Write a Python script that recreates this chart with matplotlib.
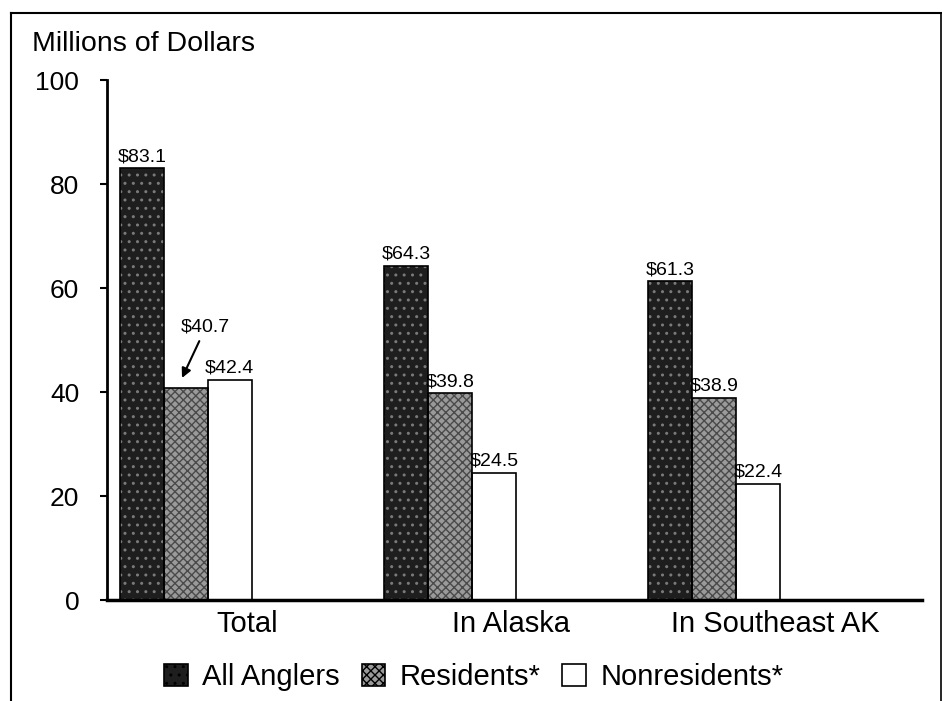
import matplotlib
matplotlib.use("Agg")
import matplotlib.pyplot as plt
from matplotlib.patches import Patch
import numpy as np

plt.rcParams['font.family'] = ['Liberation Sans', 'DejaVu Sans']
plt.rcParams['hatch.linewidth'] = 1.0

categories = ["Total", "In Alaska", "In Southeast AK"]
series_names = ["All Anglers", "Residents*", "Nonresidents*"]
all_anglers = [83.1, 64.3, 61.3]
residents = [40.7, 39.8, 38.9]
nonresidents = [42.4, 24.5, 22.4]
yticks = [0, 20, 40, 60, 80, 100]

fig = plt.figure(figsize=(9.42, 7.01), dpi=100)
fig.patch.set_facecolor('white')
ax = fig.add_axes([107/942, 1-600/701, (922-107)/942, (600-80)/701])

x = np.arange(len(categories))
w = 0.166
styles = [
    dict(face='#1e1e1e', hatch='..', hcol='#7a7a7a'),
    dict(face='#9a9a9a', hatch='xxxx', hcol='#4a4a4a'),
    dict(face='white', hatch=None, hcol='black'),
]
data = [all_anglers, residents, nonresidents]
offsets = [-w, 0, w]
for vals, off, st in zip(data, offsets, styles):
    ax.bar(x + off, vals, w, color=st['face'], hatch=st['hatch'],
           edgecolor=st['hcol'], linewidth=0, zorder=2)
    ax.bar(x + off, vals, w, fill=False, edgecolor='black', linewidth=1.2, zorder=3)

# value labels
for vals, off in zip(data, offsets):
    for i, v in enumerate(vals):
        if vals is residents and i == 0:
            continue
        ax.annotate(f"${v}", (x[i] + off, v), xytext=(0, 2), textcoords='offset points',
                    ha='center', va='bottom', fontsize=14)
# special annotated label
ax.annotate(f"${residents[0]}", xy=(x[0] - 0.015, residents[0] + 2.0),
            xytext=(x[0] + 0.075, 50.8), ha='center', va='bottom', fontsize=14,
            arrowprops=dict(arrowstyle='-|>', color='black', lw=1.5, mutation_scale=14,
                            shrinkA=2, shrinkB=0))

ax.set_xlim(-0.299, 2.787)
ax.set_ylim(0, 100)
ax.set_yticks(yticks)
ax.set_yticklabels([str(t) for t in yticks], fontsize=19)
ax.set_xticks(x + 0.23)
ax.set_xticklabels(categories, fontsize=21)
ax.tick_params(axis='x', length=0, pad=7)
ax.tick_params(axis='y', length=5, width=1.5, direction='out', pad=15)
for s in ['top', 'right']:
    ax.spines[s].set_visible(False)
ax.spines['left'].set_linewidth(2)
ax.spines['bottom'].set_linewidth(2.5)
ax.set_facecolor('white')

fig.text(32/942, 1-44/701, "Millions of Dollars", fontsize=20.5, ha='left', va='center')

handles = [Patch(facecolor=st['face'], hatch=st['hatch'], edgecolor='black', linewidth=1.2)
           for st in styles]
leg = fig.legend(handles, series_names, loc='center', bbox_to_anchor=(0.503, 1-677/701),
                 ncol=3, frameon=False, fontsize=21, handlelength=0.8, handleheight=0.8,
                 handletextpad=0.5, columnspacing=0.75)

# outer frame
fig.add_artist(plt.Line2D([11/942, 11/942], [0, 1-13/701], transform=fig.transFigure,
                          color='black', lw=1.5))
fig.add_artist(plt.Line2D([11/942, 1], [1-13/701, 1-13/701], transform=fig.transFigure,
                          color='black', lw=1.5))
fig.add_artist(plt.Line2D([940.5/942, 940.5/942], [0, 1-13/701], transform=fig.transFigure,
                          color='black', lw=1.2))

fig.savefig("out.png", dpi=100, facecolor='white')
